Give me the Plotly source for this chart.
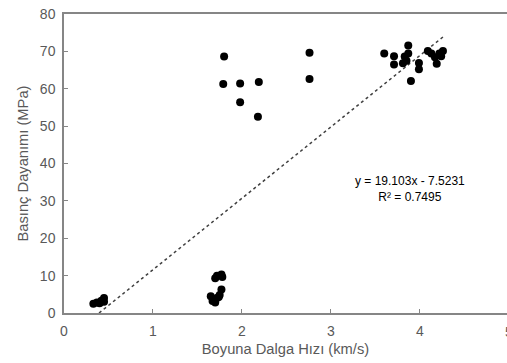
import plotly.graph_objects as go
import numpy as np

# Data
vp = [0.33, 0.37, 0.40, 0.42, 0.45, 0.45,
      1.65, 1.67, 1.70, 1.72, 1.75, 1.77, 1.70, 1.72, 1.77, 1.78, 1.69, 1.74,
      1.80, 1.79, 1.98, 2.19, 1.98, 2.18, 2.76, 2.76,
      3.60, 3.71, 3.71, 3.81, 3.83, 3.87, 3.87, 3.85, 3.90, 3.99, 3.99,
      4.09, 4.13, 4.19, 4.22, 4.26, 4.24, 4.17]
ucs = [2.5, 2.8, 2.6, 3.3, 4.0, 3.0,
       4.5, 3.2, 2.8, 4.0, 4.8, 6.3, 9.3, 10.0, 10.3, 9.6, 3.6, 4.3,
       68.6, 61.3, 61.4, 61.8, 56.4, 52.5, 69.6, 62.6,
       69.4, 68.7, 66.5, 66.8, 68.6, 71.6, 69.4, 67.5, 62.1, 66.9, 65.2,
       70.1, 69.4, 66.7, 69.4, 70.1, 68.7, 68.4]

slope = 19.103
intercept = -7.5231
r2 = 0.7495

x_ticks = [0, 1, 2, 3, 4, 5]
y_ticks = [0, 10, 20, 30, 40, 50, 60, 70, 80]
x_range = [0, 4.98]

x0 = -intercept / slope
x1 = max(vp)
tx = np.array([x0, x1])
ty = slope * tx + intercept

FONT = "Liberation Sans, Arial"
GRAY = "#595959"

fig = go.Figure()
fig.add_trace(go.Scatter(x=list(tx), y=list(ty), mode="lines",
                         line=dict(color="#404040", width=1.5, dash="dot"),
                         hoverinfo="skip", showlegend=False))
fig.add_trace(go.Scatter(x=vp, y=ucs, mode="markers",
                         marker=dict(color="black", size=8),
                         showlegend=False))

fig.add_annotation(x=3.89, y=33.2, xref="x", yref="y",
                   text=f"y = {slope}x - {abs(intercept)}<br>R² = {r2}",
                   showarrow=False, align="center",
                   font=dict(family=FONT, size=12, color="black"))

# partially-visible tick label at 5 (just beyond the plot edge)
fig.add_annotation(x=x_ticks[-1] / x_range[1], y=0, xref="paper", yref="paper",
                   yanchor="top", yshift=-9, xanchor="center",
                   text=str(x_ticks[-1]), showarrow=False,
                   font=dict(family=FONT, size=14, color=GRAY))

fig.update_layout(
    width=507, height=363,
    margin=dict(l=64, r=0, t=14, b=50),
    plot_bgcolor="white", paper_bgcolor="white",
    font=dict(family=FONT, size=14, color=GRAY),
    xaxis=dict(range=x_range, tickvals=x_ticks, ticks="inside", ticklen=4,
               tickcolor="#868686", showline=True, linecolor="#868686", linewidth=1.5,
               mirror=True, showgrid=False, zeroline=False, automargin=False,
               tickfont=dict(size=14), ticklabelstandoff=4,
               title=dict(text="Boyuna Dalga Hızı (km/s)", standoff=6,
                          font=dict(size=14.7, color=GRAY))),
    yaxis=dict(range=[0, 80], tickvals=y_ticks, ticks="inside", ticklen=4,
               tickcolor="#868686", showline=True, linecolor="#868686", linewidth=1.5,
               showgrid=False, zeroline=False, automargin=False,
               tickfont=dict(size=14), ticklabelstandoff=4,
               title=dict(text="Basınç Dayanımı (MPa)", standoff=8,
                          font=dict(size=14.7, color=GRAY))),
)

fig.write_html("out.html", config={"displayModeBar": False},
               post_script="document.body.style.margin='0';document.body.style.overflow='hidden';")
